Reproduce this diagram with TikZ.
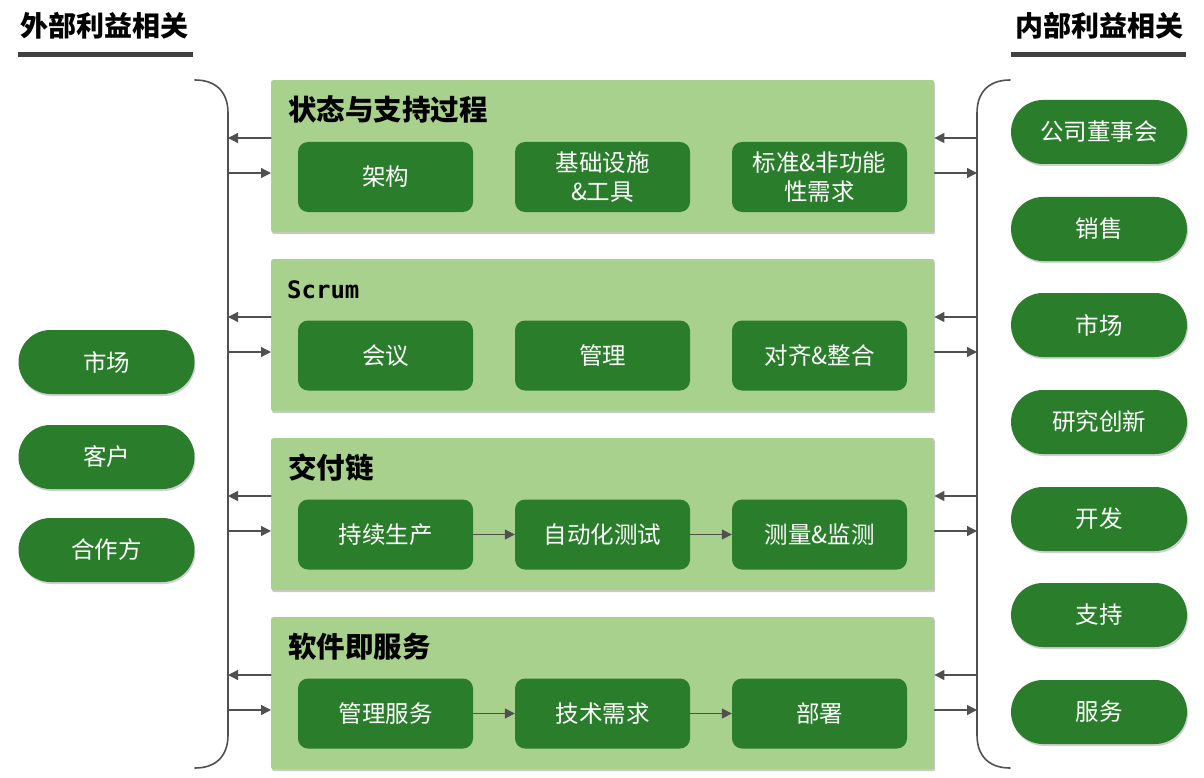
\documentclass[tikz,border=0pt]{standalone}
\usepackage{fontspec}
\setmainfont{Noto Sans CJK SC}
\newfontfamily\monofont{DejaVu Sans Mono}
\usepackage{tikz}
\usetikzlibrary{arrows.meta,shadows}

\begin{document}
\begin{tikzpicture}
		[x=1pt,y=-1pt,line cap=round,
		%Styles
		heading/.style={font=\fontsize{28}{32}\selectfont\bfseries,inner sep=0pt},
		heading bar/.style={line width=5pt,draw=barcolor,line cap=butt},
		panel/.style={fill=panelcolor,rounded corners=2pt,minimum width=663pt,minimum height=152pt,anchor=north west,inner sep=0pt,
			drop shadow={shadow xshift=1pt,shadow yshift=-2pt,opacity=0.35,fill=black!60}},
		panel title/.style={font=\fontsize{28.5}{32}\selectfont\bfseries,anchor=west,inner sep=0pt},
		task/.style={fill=boxcolor,text=white,rounded corners=10pt,minimum width=175pt,minimum height=70pt,
			align=center,font=\fontsize{23.5}{29}\selectfont,inner sep=0pt},
		party/.style={fill=boxcolor,text=white,rounded corners=32pt,minimum width=176pt,minimum height=64pt,
			font=\fontsize{23.5}{28}\selectfont,inner sep=0pt,
			drop shadow={shadow xshift=1pt,shadow yshift=-2pt,opacity=0.3,fill=black!60}},
		brace line/.style={draw=linecolor,line width=1.6pt},
		link/.style={draw=linecolor,line width=1.3pt,-{Triangle[length=10pt,width=10pt]}}
		]
		
		%Colors
		\definecolor{panelcolor}{HTML}{A9D18E}
		\definecolor{boxcolor}{HTML}{2A7E2B}
		\definecolor{barcolor}{HTML}{404040}
		\definecolor{linecolor}{HTML}{505050}
		
		\useasboundingbox (0,0) rectangle (1204,778);
		
		%Headings
		\node[heading,anchor=west] (ext) at (20,26) {外部利益相关};
		\node[heading,anchor=east] (int) at (1184,26) {内部利益相关};
		\draw[heading bar] (18,55) -- (193,55);
		\draw[heading bar] (1011,55) -- (1186,55);
		
		%Brackets
		\draw[brace line] (195,80) .. controls (216,80) and (228,92) .. (228,113) -- (228,735) .. controls (228,756) and (216,768) .. (195,768);
		\draw[brace line] (1010,80) .. controls (989,80) and (977,92) .. (977,113) -- (977,735) .. controls (977,756) and (989,768) .. (1010,768);
		
		%Panels with arrows to both brackets
		\foreach \i/\top in {1/80,2/259,3/438,4/617}{
			\node[panel] (p\i) at (271,\top) {};
			\coordinate (lin\i) at (228,\top+58);
			\coordinate (lout\i) at (228,\top+93);
			\coordinate (rin\i) at (977,\top+58);
			\coordinate (rout\i) at (977,\top+93);
			\draw[link] (p\i.west |- lin\i) -- (lin\i);
			\draw[link] (lout\i) -- (p\i.west |- lout\i);
			\draw[link] (rin\i) -- (p\i.east |- rin\i);
			\draw[link] (p\i.east |- rout\i) -- (rout\i);
		}
		
		\node[panel title] (t1) at (288,110) {状态与支持过程};
		\node[panel title] (t2) at (287,290) {\fontsize{24}{28}\selectfont\monofont Scrum};
		\node[panel title] (t3) at (288,468) {交付链};
		\node[panel title] (t4) at (288,647) {软件即服务};
		
		%Tasks
		\node[task] (arch) at (385.5,177) {架构};
		\node[task] (infra) at (602.5,177) {基础设施\\\&工具};
		\node[task] (nfr) at (819.5,177) {标准\&非功能\\性需求};
		
		\node[task] (meet) at (385.5,355.5) {会议};
		\node[task] (mgmt) at (602.5,355.5) {管理};
		\node[task] (align) at (819.5,355.5) {对齐\&整合};
		
		\node[task] (prod) at (385.5,534.5) {持续生产};
		\node[task] (test) at (602.5,534.5) {自动化测试};
		\node[task] (mon) at (819.5,534.5) {测量\&监测};
		\draw[link] (prod) -- (test);
		\draw[link] (test) -- (mon);
		
		\node[task] (svc) at (385.5,713.5) {管理服务};
		\node[task] (tech) at (602.5,713.5) {技术需求};
		\node[task] (dep) at (819.5,713.5) {部署};
		\draw[link] (svc) -- (tech);
		\draw[link] (tech) -- (dep);
		
		%External parties
		\node[party] (market) at (106.5,362) {市场};
		\node[party] (client) at (106.5,457) {客户};
		\node[party] (partner) at (106.5,550) {合作方};
		
		%Internal parties
		\node[party] (board) at (1099,132) {公司董事会};
		\node[party] (sales) at (1099,229) {销售};
		\node[party] (mkt) at (1099,325) {市场};
		\node[party] (rnd) at (1099,422) {研究创新};
		\node[party] (dev) at (1099,519) {开发};
		\node[party] (supp) at (1099,615) {支持};
		\node[party] (serv) at (1099,712) {服务};
	\end{tikzpicture}
\end{document}
